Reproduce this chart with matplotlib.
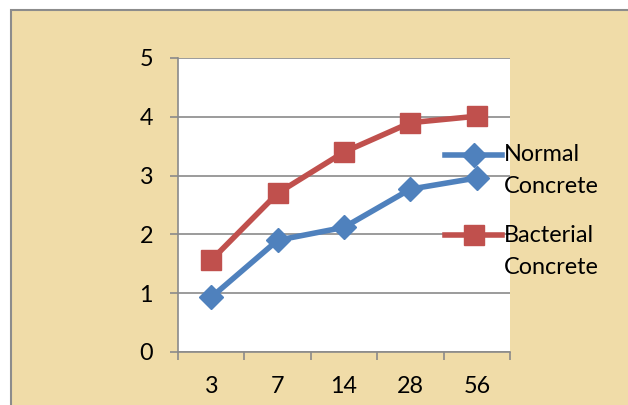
import matplotlib.pyplot as plt
from matplotlib.patches import Rectangle
from matplotlib.lines import Line2D
import numpy as np

days = ['3', '7', '14', '28', '56']
normal = [0.93, 1.90, 2.12, 2.77, 2.96]
bacterial = [1.56, 2.70, 3.40, 3.90, 4.01]

W, H = 628, 405
plt.rcParams['font.family'] = ['Lato', 'DejaVu Sans']

blue = '#4F81BD'
red = '#C0504D'
grey = '#8a8a8a'
fs = 16.8

fig = plt.figure(figsize=(W / 100, H / 100), dpi=100, facecolor='white')

# parchment-like frame, drawn under the axes
fig.patches.append(Rectangle((11 / W, -0.01), 1.0, 1 - 10 / H + 0.01,
                             transform=fig.transFigure, facecolor='#F0DCA8',
                             edgecolor='#8c8c8c', linewidth=1.5, zorder=-5))

ax = fig.add_axes([178 / W, 1 - 352 / H, (510 - 178) / W, (352 - 58) / H])
ax.set_facecolor('white')
ax.set_zorder(1)

x = np.arange(len(days))
ax.plot(x, normal, color=blue, lw=4, marker='D', ms=12, zorder=3)
ax.plot(x, bacterial, color=red, lw=4, marker='s', ms=15, zorder=3)

ax.set_xlim(-0.5, 4.5)
ax.set_ylim(0, 5)
ax.set_yticks(range(6))
ax.yaxis.grid(True, color=grey, lw=1.2)
ax.set_axisbelow(True)

ax.set_xticks(x)
ax.set_xticklabels(days)
ax.set_xticks(np.arange(-0.5, 5, 1), minor=True)
ax.tick_params(axis='x', which='major', length=0, pad=17, labelsize=fs)
ax.tick_params(axis='x', which='minor', length=6, color=grey, width=1.2)
ax.tick_params(axis='y', length=6, color=grey, width=1.2, labelsize=fs, pad=12)

for s in ['top', 'right']:
    ax.spines[s].set_visible(False)
for s in ['left', 'bottom']:
    ax.spines[s].set_color(grey)
    ax.spines[s].set_linewidth(1.2)

# legend drawn by hand, sitting over the right edge of the plot
def px(xp, yp):
    return xp / W, 1 - yp / H

entries = [('Normal', 'Concrete', blue, 'D', 12, 155),
           ('Bacterial', 'Concrete', red, 's', 15, 235)]
for line1, line2, col, mk, size, yp in entries:
    (x0, y0), (x1, _) = px(445, yp), px(502, yp)
    fig.add_artist(Line2D([x0, (x0 + x1) / 2, x1], [y0, y0, y0],
                          transform=fig.transFigure, color=col, lw=4,
                          marker=mk, ms=size, markevery=[1], zorder=5))
    fig.text(*px(504, yp), line1, fontsize=fs, va='center', ha='left', zorder=5)
    fig.text(*px(504, yp + 32), line2, fontsize=fs, va='center', ha='left', zorder=5)

fig.savefig('out.png', dpi=100)
